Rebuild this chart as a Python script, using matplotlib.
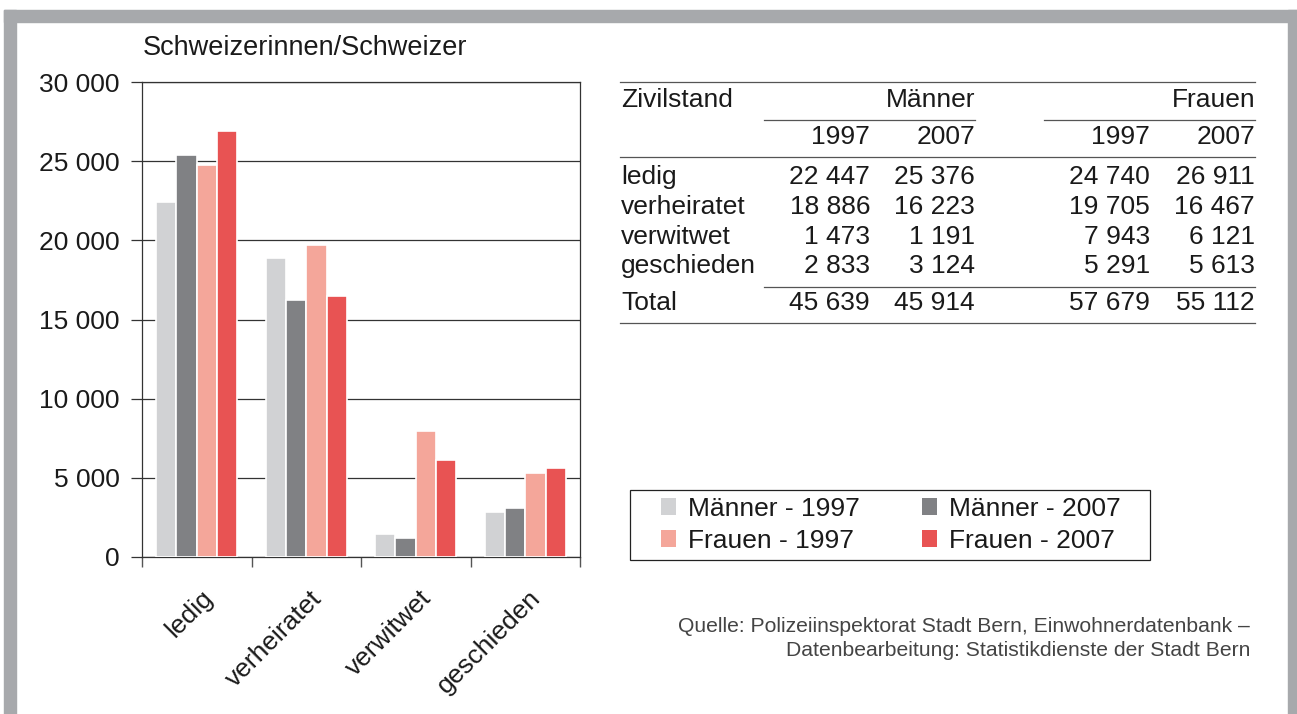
import matplotlib.pyplot as plt
from matplotlib.patches import Rectangle
from matplotlib.lines import Line2D
import numpy as np

plt.rcParams['font.family'] = ['Liberation Sans', 'DejaVu Sans']

categories = ["ledig", "verheiratet", "verwitwet", "geschieden"]
series_names = ["Männer - 1997", "Männer - 2007", "Frauen - 1997", "Frauen - 2007"]
maenner_1997 = [22447, 18886, 1473, 2833]
maenner_2007 = [25376, 16223, 1191, 3124]
frauen_1997 = [24740, 19705, 7943, 5291]
frauen_2007 = [26911, 16467, 6121, 5613]
totals = [45639, 45914, 57679, 55112]
colors = ["#d1d2d4", "#808184", "#f4a69a", "#e85353"]

W, H = 1297, 714
fig = plt.figure(figsize=(W / 100, H / 100), dpi=100)


def fx(px):
    return px / W


def fy(py):
    return 1 - py / H


def fmt(v):
    return f"{v:,}".replace(",", " ")


txt = "#1a1a1a"

# grey frame
frame_col = "#a7a9ac"
fig.patches.append(Rectangle((fx(4), fy(22)), fx(1293), fy(10) - fy(22), transform=fig.transFigure, color=frame_col, zorder=0))
fig.patches.append(Rectangle((fx(4), 0), fx(12), fy(10), transform=fig.transFigure, color=frame_col, zorder=0))
fig.patches.append(Rectangle((fx(1288), 0), fx(9), fy(10), transform=fig.transFigure, color=frame_col, zorder=0))

# bar chart
ax = fig.add_axes([fx(142), fy(557), fx(580 - 142), fy(82) - fy(557)])
series = [maenner_1997, maenner_2007, frauen_1997, frauen_2007]
x = np.arange(len(categories))
bw = 0.185
for i, (vals, c, name) in enumerate(zip(series, colors, series_names)):
    ax.bar(x + (i - 1.5) * bw, vals, bw, color=c, edgecolor="white", linewidth=1.2, label=name, zorder=3)

ax.set_xlim(-0.5, len(categories) - 0.5)
ax.set_ylim(0, 30000)
ax.set_yticks(range(0, 30001, 5000))
ax.set_yticklabels([fmt(v) for v in range(0, 30001, 5000)], fontsize=19, color=txt)
ax.yaxis.grid(True, color="#333333", linewidth=0.9, zorder=1)
ax.tick_params(axis="y", length=8, width=0.9, color="#333333", pad=8)
ax.set_xticks(np.arange(-0.5, len(categories), 1))
ax.set_xticklabels([])
ax.tick_params(axis="x", which="major", length=7, width=1, color="#555555")
ax.set_xticks(x + 0.11, minor=True)
ax.set_xticklabels(categories, minor=True, rotation=45, ha="right", va="center",
                   rotation_mode="anchor", fontsize=19, color=txt)
ax.tick_params(axis="x", which="minor", length=0, pad=27)
for s in ax.spines.values():
    s.set_color("#333333")
    s.set_linewidth(0.9)
ax.set_axisbelow(True)

fig.text(fx(143), fy(48), "Schweizerinnen/Schweizer", fontsize=19.5, va="center", ha="left", color=txt)

# table
fs = 19
tx_left = 621
col_r = [870, 975, 1150, 1255]


def hline(x0, x1, y, lw=0.9):
    fig.lines.append(Line2D([fx(x0), fx(x1)], [fy(y), fy(y)], transform=fig.transFigure, color="#555555", linewidth=lw))


hline(620, 1255, 82)
hline(764, 975, 120)
hline(1044, 1255, 120)
hline(620, 1255, 157)
hline(764, 1255, 287)
hline(620, 1255, 323)

fig.text(fx(tx_left), fy(100), "Zivilstand", fontsize=fs, va="center", color=txt)
fig.text(fx(975), fy(100), "Männer", fontsize=fs, va="center", ha="right", color=txt)
fig.text(fx(1255), fy(100), "Frauen", fontsize=fs, va="center", ha="right", color=txt)
for cx, yr in zip(col_r, ["1997", "2007", "1997", "2007"]):
    fig.text(fx(cx), fy(137), yr, fontsize=fs, va="center", ha="right", color=txt)

row_y = [177, 207, 237, 266]
for r, cat in enumerate(categories):
    fig.text(fx(tx_left), fy(row_y[r]), cat, fontsize=fs, va="center", color=txt)
    for cx, vals in zip(col_r, series):
        fig.text(fx(cx), fy(row_y[r]), fmt(vals[r]), fontsize=fs, va="center", ha="right", color=txt)
fig.text(fx(tx_left), fy(303), "Total", fontsize=fs, va="center", color=txt)
for cx, t in zip(col_r, totals):
    fig.text(fx(cx), fy(303), fmt(t), fontsize=fs, va="center", ha="right", color=txt)

# legend (frame drawn separately)
fig.patches.append(Rectangle((fx(630), fy(560)), fx(1150 - 630), fy(490) - fy(560), transform=fig.transFigure,
                             fill=False, edgecolor="#222222", linewidth=0.9))
handles, labels = ax.get_legend_handles_labels()
order = [0, 2, 1, 3]
leg = fig.legend([handles[i] for i in order], [labels[i] for i in order], ncol=2,
                 loc="upper left", bbox_to_anchor=(fx(661), fy(497)), frameon=False,
                 fontsize=19, handlelength=0.58, handleheight=0.58, handletextpad=0.45,
                 columnspacing=2.35, labelspacing=0.29, borderpad=0, borderaxespad=0)
for t in leg.get_texts():
    t.set_color(txt)
for h in leg.legend_handles:
    h.set_edgecolor("none")

fig.text(fx(1250), fy(627), "Quelle: Polizeiinspektorat Stadt Bern, Einwohnerdatenbank –",
         fontsize=15.2, ha="right", va="center", color="#444444")
fig.text(fx(1250), fy(650), "Datenbearbeitung: Statistikdienste der Stadt Bern",
         fontsize=15.2, ha="right", va="center", color="#444444")

fig.savefig("out.png", dpi=100)
